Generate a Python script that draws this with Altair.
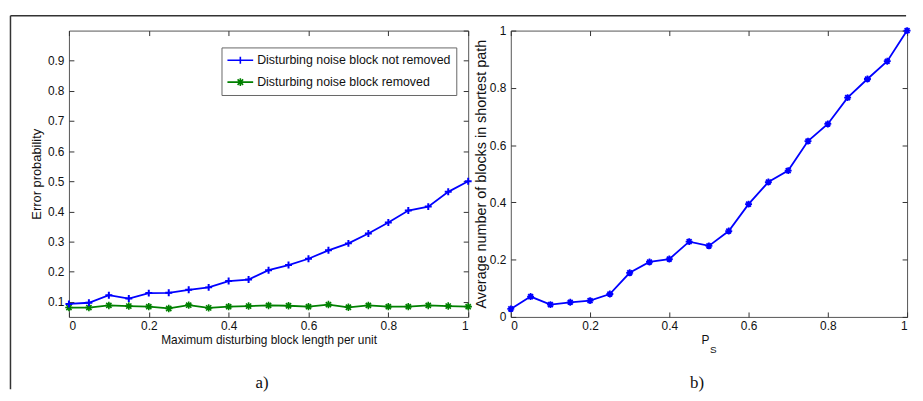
import altair as alt
import pandas as pd

# ---------------- data ----------------
x_vals = [0, 0.05, 0.1, 0.15, 0.2, 0.25, 0.3, 0.35, 0.4, 0.45, 0.5,
          0.55, 0.6, 0.65, 0.7, 0.75, 0.8, 0.85, 0.9, 0.95, 1.0]
not_removed = [0.093, 0.097, 0.122, 0.111, 0.129, 0.130, 0.140, 0.148, 0.169, 0.174, 0.205,
               0.222, 0.243, 0.271, 0.294, 0.327, 0.363, 0.403, 0.416, 0.465, 0.500]
removed = [0.081, 0.081, 0.088, 0.086, 0.084, 0.078, 0.089, 0.080, 0.084, 0.086, 0.088,
           0.087, 0.084, 0.091, 0.082, 0.088, 0.084, 0.084, 0.088, 0.086, 0.084]
avg_blocks = [0.028, 0.071, 0.043, 0.051, 0.057, 0.080, 0.154, 0.192, 0.202, 0.263, 0.248,
              0.300, 0.394, 0.471, 0.511, 0.614, 0.674, 0.766, 0.831, 0.893, 1.0]

series_names = ["Disturbing noise block not removed", "Disturbing noise block removed"]
series_colors = ["#0000ff", "#008000"]
right_color = "#0000ff"

x_ticks = [0, 0.2, 0.4, 0.6, 0.8, 1]
left_y_ticks = [0.1, 0.2, 0.3, 0.4, 0.5, 0.6, 0.7, 0.8, 0.9]
right_y_ticks = [0, 0.2, 0.4, 0.6, 0.8, 1]

left_x_title = "Maximum disturbing block length per unit"
left_y_title = "Error probability"
right_x_title = "P"
right_x_sub = "S"
right_y_title = "Average number of blocks in shortest path"
panel_labels = ["a)", "b)"]

# ---------------- tables ----------------
df_left = pd.DataFrame({
    "x": x_vals * 2,
    "value": not_removed + removed,
    "series": [series_names[0]] * len(x_vals) + [series_names[1]] * len(x_vals),
})
df_right = pd.DataFrame({"x": x_vals, "value": avg_blocks})
one = pd.DataFrame({"k": [0]})

# ---------------- style ----------------
FONT = "Liberation Sans"
W1, H1 = 403, 289
W2, H2 = 400, 289
PLUS = "M-1,0L1,0M0,-1L0,1"
AST = "M-1,0L1,0M0,-1L0,1M-0.7,-0.7L0.7,0.7M-0.7,0.7L0.7,-0.7"
# legend symbols: size 196 -> 7 px per unit, symbol centred at x=7 of the entry
PLUS_LEG = "M-1,0L2.71,0M0.86,-0.5L0.86,0.5M0.36,0L1.36,0"
AST_LEG = ("M-1,0L2.71,0M0.86,-0.55L0.86,0.55M0.46,-0.4L1.26,0.4M0.46,0.4L1.26,-0.4"
           "M0.31,0L1.41,0")


def main_x_axis(title, **kw):
    return alt.Axis(values=x_ticks, format="~g", orient="bottom", offset=-5, tickSize=5,
                    labelPadding=4, domain=False, grid=False, title=title,
                    titlePadding=3, titleFontSize=12, **kw)


def main_y_axis(vals, title, tsize, tpad):
    return alt.Axis(values=vals, format="~g", orient="left", offset=-5, tickSize=5,
                    labelPadding=5, domain=False, grid=False, title=title,
                    titlePadding=tpad, titleFontSize=tsize)


def mirror_x_axis():
    return alt.Axis(values=x_ticks, orient="top", offset=-5, tickSize=5, labels=False,
                    domain=False, grid=False, title=None)


def mirror_y_axis(vals):
    return alt.Axis(values=vals, orient="right", offset=-5, tickSize=5, labels=False,
                    domain=False, grid=False, title=None)


xs = alt.Scale(domain=[0, 1], nice=False, zero=False)
ys_left = alt.Scale(domain=[0.05, 1], nice=False, zero=False)
ys_right = alt.Scale(domain=[0, 1], nice=False, zero=False)

# ---------------- left panel ----------------
base_l = alt.Chart(df_left)
blue_l = base_l.transform_filter(alt.datum.series == series_names[0])
green_l = base_l.transform_filter(alt.datum.series == series_names[1])

line_blue = blue_l.mark_line(strokeWidth=1.8, color=series_colors[0]).encode(
    x=alt.X("x:Q", scale=xs, axis=main_x_axis(left_x_title)),
    y=alt.Y("value:Q", scale=ys_left, axis=main_y_axis(left_y_ticks, left_y_title, 13, 4)),
)
line_green = green_l.mark_line(strokeWidth=1.8, color=series_colors[1]).encode(
    x=alt.X("x:Q", scale=xs, axis=None),
    y=alt.Y("value:Q", scale=ys_left, axis=None),
)
pts_blue = blue_l.mark_point(shape=PLUS, size=49, filled=False, strokeWidth=2, opacity=1,
                             color=series_colors[0]).encode(
    x=alt.X("x:Q", scale=xs, axis=mirror_x_axis()),
    y=alt.Y("value:Q", scale=ys_left, axis=mirror_y_axis(left_y_ticks + [1])),
)
pts_green = green_l.mark_point(shape=AST, size=56, filled=False, strokeWidth=1.6, opacity=1,
                               color=series_colors[1]).encode(
    x=alt.X("x:Q", scale=xs, axis=None),
    y=alt.Y("value:Q", scale=ys_left, axis=None),
)
leg_kw = dict(orient="none", legendX=154, legendY=17, padding=5, strokeColor="#666",
              fillColor="white", symbolSize=196, symbolStrokeWidth=1.6, symbolOpacity=1,
              symbolFillColor="transparent", labelFont=FONT, labelFontSize=12.5,
              labelColor="#111", labelOffset=15, rowPadding=7, title=None, labelLimit=400)
legend_layer = base_l.transform_filter("false").mark_point(filled=False, strokeWidth=1.6).encode(
    x=alt.X("x:Q", scale=xs, axis=None),
    y=alt.Y("value:Q", scale=ys_left, axis=None),
    color=alt.Color("series:N", scale=alt.Scale(domain=series_names, range=series_colors),
                    title=None, legend=alt.Legend(**leg_kw)),
    shape=alt.Shape("series:N", scale=alt.Scale(domain=series_names, range=[PLUS_LEG, AST_LEG]),
                    title=None, legend=alt.Legend(**leg_kw)),
)
frame_v = alt.Chart(one).mark_rule(color="#333", strokeWidth=1.5).encode(
    x=alt.value(-59), y=alt.value(-15), y2=alt.value(362))
frame_h = alt.Chart(one).mark_rule(color="#333", strokeWidth=1.5).encode(
    x=alt.value(-59), x2=alt.value(845), y=alt.value(-15))
lab_a = alt.Chart(one).mark_text(text=panel_labels[0], font="Liberation Serif", fontSize=17,
                                 color="#111", baseline="middle").encode(
    x=alt.value(195), y=alt.value(356))

left = alt.layer(line_green, line_blue, pts_green, pts_blue, legend_layer, frame_v, frame_h,
                 lab_a).resolve_axis(x="independent", y="independent").properties(
    width=W1, height=H1)

# ---------------- right panel ----------------
base_r = alt.Chart(df_right)
lines_r = base_r.mark_line(strokeWidth=1.8, color=right_color).encode(
    x=alt.X("x:Q", scale=xs, axis=main_x_axis(right_x_title, titleX=196)),
    y=alt.Y("value:Q", scale=ys_right, axis=main_y_axis(right_y_ticks, right_y_title, 14.5, 1)),
)
pts_r = base_r.mark_point(shape=AST, size=49, filled=False, strokeWidth=1.8, color=right_color,
                          opacity=1).encode(
    x=alt.X("x:Q", scale=xs, axis=mirror_x_axis()),
    y=alt.Y("value:Q", scale=ys_right, axis=mirror_y_axis(right_y_ticks)),
)
sub_s = alt.Chart(one).mark_text(text=right_x_sub, font=FONT, fontSize=10, color="#111",
                                 baseline="middle").encode(x=alt.value(204.5), y=alt.value(322.5))
lab_b = alt.Chart(one).mark_text(text=panel_labels[1], font="Liberation Serif", fontSize=17,
                                 color="#111", baseline="middle").encode(
    x=alt.value(188), y=alt.value(356))

right = alt.layer(lines_r, pts_r, sub_s, lab_b).resolve_axis(
    x="independent", y="independent").properties(width=W2, height=H2)

chart = alt.hconcat(left, right, spacing=43, bounds="flush").properties(
    padding={"left": 0.5, "top": 4, "right": 0, "bottom": 0}
).configure_view(stroke="#555", strokeWidth=1).configure_axis(
    labelFont=FONT, labelFontSize=12, labelColor="#111", tickColor="#333",
    titleFont=FONT, titleFontWeight="normal", titleColor="#111"
)

chart.save("out.html", embed_options={"renderer": "svg", "actions": False})
